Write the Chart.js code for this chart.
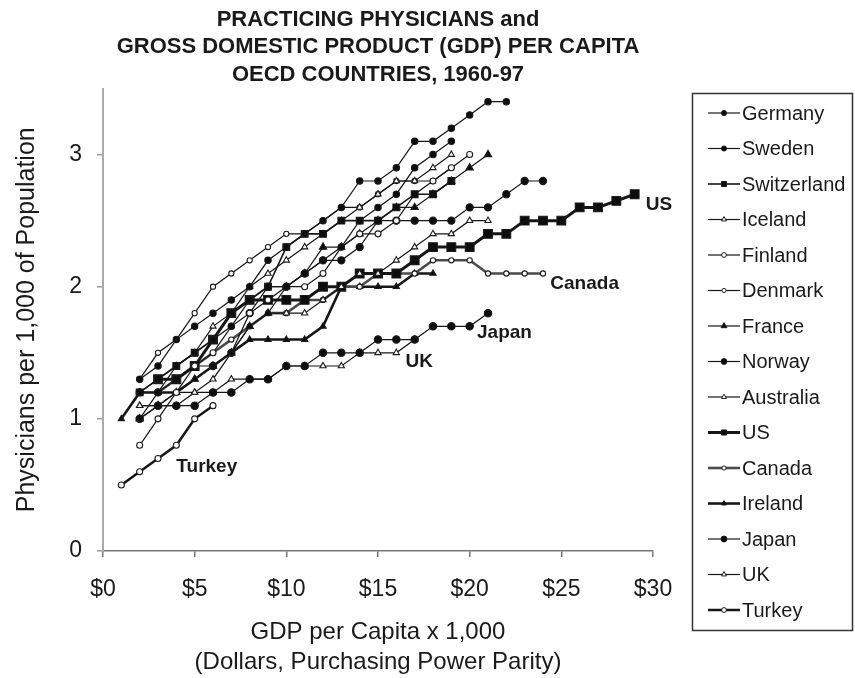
<!DOCTYPE html>
<html><head><meta charset="utf-8">
<script src="https://cdn.jsdelivr.net/npm/chart.js@4/dist/chart.umd.min.js"></script>
<style>html,body{margin:0;padding:0;background:#fff;}#wrap{width:855px;height:678px;}</style>
</head><body><div id="wrap"><canvas id="c" width="855" height="678"></canvas></div>
<script>
// ---- data (GDP per capita x 1,000 ; physicians per 1,000) ----
const countries = ['Germany','Sweden','Switzerland','Iceland','Finland','Denmark','France','Norway','Australia','US','Canada','Ireland','Japan','UK','Turkey'];

const gdpGermany = [2,3,4,5,6,7,8,9,10,11,12,13,14,15,16,17,18,19,20,21,22];
const docGermany = [1.3,1.4,1.6,1.7,1.8,1.9,2.0,2.2,2.3,2.4,2.5,2.6,2.8,2.8,2.9,3.1,3.1,3.2,3.3,3.4,3.4];
const gdpSweden = [2,3,4,5,6,7,8,9,10,11,12,13,14,15,16,17,18,19];
const docSweden = [1.0,1.2,1.4,1.5,1.6,1.7,1.9,2.0,2.0,2.1,2.2,2.3,2.5,2.6,2.7,2.9,3.0,3.1];
const gdpSwitzerland = [2,3,4,5,6,7,8,9,10,11,12,13,14,15,16,17,18,19];
const docSwitzerland = [1.2,1.3,1.4,1.5,1.6,1.8,1.9,2.0,2.3,2.4,2.4,2.5,2.5,2.5,2.6,2.7,2.7,2.8];
const gdpIceland = [2,3,4,5,6,7,8,9,10,11,12,13,14,15,16,17,18,19];
const docIceland = [1.2,1.3,1.4,1.5,1.7,1.8,2.0,2.1,2.2,2.3,2.4,2.5,2.6,2.7,2.8,2.8,2.9,3.0];
const gdpFinland = [2,3,4,5,6,7,8,9,10,11,12,13,14,15,16,17,18,19,20];
const docFinland = [0.8,1.0,1.2,1.4,1.5,1.7,1.8,1.9,2.0,2.0,2.1,2.3,2.4,2.4,2.5,2.7,2.8,2.9,3.0];
const gdpDenmark = [2,3,4,5,6,7,8,9,10,11,12,13,14,15,16,17,18,19];
const docDenmark = [1.3,1.5,1.6,1.8,2.0,2.1,2.2,2.3,2.4,2.4,2.5,2.6,2.6,2.7,2.8,2.8,2.8,2.9];
const gdpFrance = [2,3,4,5,6,7,8,9,10,11,12,13,14,15,16,17,18,19,20,21];
const docFrance = [1.0,1.1,1.2,1.3,1.4,1.5,1.7,1.8,2.0,2.1,2.3,2.3,2.4,2.5,2.6,2.6,2.7,2.8,2.9,3.0];
const gdpNorway = [2,3,4,5,6,7,8,9,10,11,12,13,14,15,16,17,18,19,20,21,22,23,24];
const docNorway = [1.2,1.2,1.3,1.4,1.4,1.5,1.8,2.0,2.0,2.1,2.2,2.2,2.3,2.5,2.5,2.5,2.5,2.5,2.6,2.6,2.7,2.8,2.8];
const gdpAustralia = [2,3,4,5,6,7,8,9,10,11,12,13,14,15,16,17,18,19,20,21];
const docAustralia = [1.1,1.1,1.2,1.2,1.3,1.5,1.7,1.8,1.8,1.8,1.9,2.0,2.1,2.1,2.2,2.3,2.4,2.4,2.5,2.5];
const gdpUS = [3,4,5,6,7,8,9,10,11,12,13,14,15,16,17,18,19,20,21,22,23,24,25,26,27,28,29];
const docUS = [1.3,1.3,1.4,1.6,1.8,1.9,1.9,1.9,1.9,2.0,2.0,2.1,2.1,2.1,2.2,2.3,2.3,2.3,2.4,2.4,2.5,2.5,2.5,2.6,2.6,2.65,2.7];
const gdpCanada = [2,3,4,5,6,7,8,9,10,11,12,13,14,15,16,17,18,19,20,21,22,23,24];
const docCanada = [1.2,1.2,1.3,1.4,1.5,1.6,1.7,1.8,1.8,1.9,1.9,2.0,2.0,2.1,2.1,2.1,2.2,2.2,2.2,2.1,2.1,2.1,2.1];
const gdpIreland = [1,2,3,4,5,6,7,8,9,10,11,12,13,14,15,16,17,18];
const docIreland = [1.0,1.2,1.2,1.2,1.3,1.4,1.5,1.6,1.6,1.6,1.6,1.7,2.0,2.0,2.0,2.0,2.1,2.1];
const gdpJapan = [2,3,4,5,6,7,8,9,10,11,12,13,14,15,16,17,18,19,20,21];
const docJapan = [1.0,1.1,1.1,1.1,1.2,1.2,1.3,1.3,1.4,1.4,1.5,1.5,1.5,1.6,1.6,1.6,1.7,1.7,1.7,1.8];
const gdpUK = [2,3,4,5,6,7,8,9,10,11,12,13,14,15,16,17];
const docUK = [1.1,1.1,1.1,1.2,1.2,1.3,1.3,1.3,1.4,1.4,1.4,1.4,1.5,1.5,1.5,1.6];
const gdpTurkey = [1,2,3,4,5,6];
const docTurkey = [0.5,0.6,0.7,0.8,1.0,1.1];

const xTicks = [0,5,10,15,20,25,30];
const yTicks = [0,1,2,3];
const titleLines = ['PRACTICING PHYSICIANS and','GROSS DOMESTIC PRODUCT (GDP) PER CAPITA','OECD COUNTRIES, 1960-97'];
const xTitle = ['GDP per Capita x 1,000','(Dollars, Purchasing Power Parity)'];
const yTitle = 'Physicians per 1,000 of Population';
const labelNames = ['US','Canada','Japan','UK','Turkey'];
const labelGdp = [29.6,24.4,20.4,16.5,4.0];
const labelDoc = [2.62,2.02,1.65,1.43,0.64];

// ---- styles ----
const gdpSets = [gdpGermany,gdpSweden,gdpSwitzerland,gdpIceland,gdpFinland,gdpDenmark,gdpFrance,gdpNorway,gdpAustralia,gdpUS,gdpCanada,gdpIreland,gdpJapan,gdpUK,gdpTurkey];
const docSets = [docGermany,docSweden,docSwitzerland,docIceland,docFinland,docDenmark,docFrance,docNorway,docAustralia,docUS,docCanada,docIreland,docJapan,docUK,docTurkey];
const styles = {
  Germany:{ps:'circle',r:3.2,fill:true,lw:1.2},
  Sweden:{ps:'circle',r:3.2,fill:true,lw:1.2},
  Switzerland:{ps:'rect',r:4.8,fill:true,lw:1.6},
  Iceland:{ps:'triangle',r:3.6,fill:false,lw:1.2},
  Finland:{ps:'circle',r:3,fill:false,lw:1.2},
  Denmark:{ps:'circle',r:2.6,fill:false,lw:1.2},
  France:{ps:'triangle',r:4.2,fill:true,lw:1.2},
  Norway:{ps:'circle',r:3.6,fill:true,lw:1.2},
  Australia:{ps:'triangle',r:3.6,fill:false,lw:1.2},
  US:{ps:'rect',r:6.2,fill:true,lw:3},
  Canada:{ps:'circle',r:2.6,fill:false,lw:2.6,col:'#4a4a4a'},
  Ireland:{ps:'triangle',r:3.6,fill:true,lw:2.6},
  Japan:{ps:'circle',r:3.7,fill:true,lw:1.2},
  UK:{ps:'triangle',r:3.6,fill:false,lw:1.2},
  Turkey:{ps:'circle',r:3,fill:false,lw:2.5}
};
const FONT = '"Liberation Sans", Arial, sans-serif';

const datasets = countries.map((name, i) => {
  const s = styles[name];
  const col = s.col || '#161616';
  return {
    label: name,
    data: gdpSets[i].map((g, k) => ({x: g, y: docSets[i][k]})),
    showLine: true,
    borderColor: col,
    borderWidth: s.lw,
    pointStyle: s.ps,
    pointRadius: s.r,
    pointBackgroundColor: s.fill ? '#0d0d0d' : '#fff',
    pointBorderColor: '#1a1a1a',
    pointBorderWidth: 1.1,
    tension: 0
  };
});

const boxLegend = {
  id: 'boxLegend',
  afterDraw(chart) {
    const ctx = chart.ctx;
    ctx.save();
    ctx.strokeStyle = '#333'; ctx.lineWidth = 1.5;
    ctx.strokeRect(692.5, 93.5, 160, 537);
    chart.data.datasets.forEach((ds, i) => {
      const y = 113 + i * 35.5;
      ctx.strokeStyle = ds.borderColor; ctx.lineWidth = ds.borderWidth;
      ctx.beginPath(); ctx.moveTo(708, y); ctx.lineTo(740, y); ctx.stroke();
      ctx.fillStyle = ds.pointBackgroundColor; ctx.strokeStyle = '#1a1a1a'; ctx.lineWidth = 1;
      Chart.helpers.drawPoint(ctx, {pointStyle: ds.pointStyle, radius: Math.min(ds.pointRadius, 4.5) * 0.8, rotation: 0, borderWidth: 1}, 724, y);
      ctx.fillStyle = '#1a1a1a'; ctx.font = '20px ' + FONT; ctx.textBaseline = 'middle'; ctx.textAlign = 'left';
      ctx.fillText(ds.label, 742, y + 1);
    });
    ctx.restore();
  }
};

const seriesLabels = {
  id: 'seriesLabels',
  afterDatasetsDraw(chart) {
    const ctx = chart.ctx, xs = chart.scales.x, ys = chart.scales.y;
    ctx.save();
    ctx.fillStyle = '#1a1a1a'; ctx.font = 'bold 19px ' + FONT;
    ctx.textAlign = 'left'; ctx.textBaseline = 'middle';
    labelNames.forEach((t, i) => ctx.fillText(t, xs.getPixelForValue(labelGdp[i]), ys.getPixelForValue(labelDoc[i])));
    ctx.restore();
  }
};

new Chart(document.getElementById('c'), {
  type: 'scatter',
  data: {datasets},
  plugins: [boxLegend, seriesLabels],
  options: {
    responsive: false, animation: false, devicePixelRatio: 1,
    layout: {padding: {top: 0, right: 202, bottom: 0, left: 0}},
    plugins: {
      legend: {display: false}, tooltip: {enabled: false},
      title: {display: true, text: titleLines, fullSize: false, color: '#1a1a1a',
        font: {family: FONT, size: 22, weight: 'bold', lineHeight: 1.25}, padding: {top: 6, bottom: 0}}
    },
    scales: {
      x: {type: 'linear', min: 0, max: 30,
        afterFit(s) { s.height = 127; },
        afterBuildTicks(s) { s.ticks = xTicks.map(v => ({value: v})); },
        grid: {drawOnChartArea: false, drawTicks: true, tickLength: 6, color: '#777', lineWidth: 1.5},
        border: {display: true, color: '#777', width: 1.5},
        ticks: {color: '#1a1a1a', padding: 19, font: {family: FONT, size: 23}, callback: v => '$' + v},
        title: {display: true, text: xTitle, color: '#1a1a1a', font: {family: FONT, size: 24, lineHeight: 1.25}, padding: {top: 0, bottom: 1}}
      },
      y: {type: 'linear', min: 0, max: 3.5,
        afterFit(s) { s.width = 103; },
        afterBuildTicks(s) { s.ticks = yTicks.map(v => ({value: v})); },
        grid: {drawOnChartArea: false, drawTicks: true, tickLength: 6, color: '#999', lineWidth: 1.5},
        border: {display: true, color: '#aaa', width: 2},
        ticks: {color: '#1a1a1a', padding: 15, font: {family: FONT, size: 23}, callback: v => String(v)},
        title: {display: true, text: yTitle, color: '#1a1a1a', font: {family: FONT, size: 25, lineHeight: 1.2}, padding: {top: 12, bottom: 0}}
      }
    }
  }
});
</script></body></html>
